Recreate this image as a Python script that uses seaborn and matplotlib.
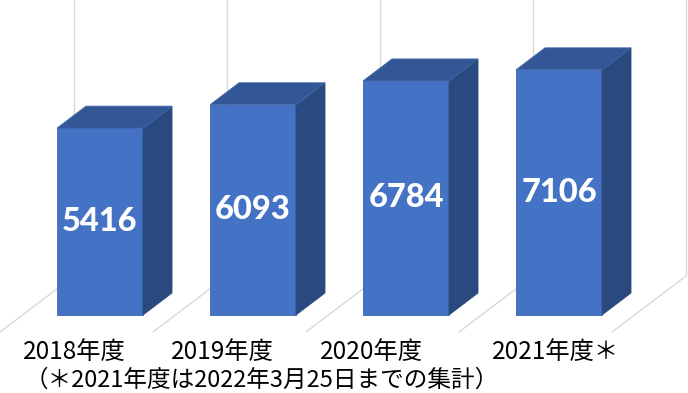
import matplotlib
matplotlib.use("Agg")
import matplotlib.pyplot as plt
import seaborn as sns
import numpy as np
import pandas as pd
from matplotlib.patches import Polygon

# ---- data ----
categories = ["2018年度", "2019年度", "2020年度", "2021年度＊"]
values = [5416, 6093, 6784, 7106]
note = "（＊2021年度は2022年3月25日までの集計）"

# ---- style ----
FRONT = "#4472C4"
TOP = "#335794"
SIDE = "#2A4A7F"
EDGE = "#3E67B0"
GRID = "#D9D9D9"

sns.set_theme(style="white")
plt.rcParams["font.family"] = ["Noto Sans CJK JP", "DejaVu Sans"]

W, H = 688, 393
fig = plt.figure(figsize=(W / 100, H / 100), dpi=100)
ax = fig.add_axes([0, 0, 1, 1])

# pixel-calibrated scales
xstep = 153.0          # px per category
x0px = 100.0           # px of first bar centre
ys = 0.0345            # px per value unit
base_px = 315.0        # px (from top) of value 0
ax.set_xlim(-x0px / xstep, (W - x0px) / xstep)
ax.set_ylim((base_px - H) / ys, base_px / ys)

bar_w = 86 / xstep
DX, DY = 29 / xstep, 22 / ys          # bar depth
FX, FY = 74 / xstep, 56 / ys          # floor depth
F0 = -17 / ys                          # floor front level
fx0 = -x0px / xstep                    # first floor line front x

# back wall and floor gridlines
for k in range(len(categories) + 1):
    xa = fx0 + k
    ax.plot([xa, xa + FX], [F0, F0 + FY], color=GRID, lw=1.0, zorder=1)
    ax.plot([xa + FX, xa + FX], [F0 + FY, base_px / ys + 100], color=GRID, lw=1.0, zorder=1)

df = pd.DataFrame({"cat": categories, "val": values})
sns.barplot(data=df, x="cat", y="val", order=categories, width=bar_w,
            color=FRONT, saturation=1, edgecolor=EDGE, linewidth=0.6, ax=ax, zorder=3)

for p, v in zip(ax.patches, values):
    xl = p.get_x()
    xr = xl + p.get_width()
    top = Polygon([(xl, v), (xl + DX, v + DY), (xr + DX, v + DY), (xr, v)],
                  closed=True, facecolor=TOP, edgecolor=EDGE, lw=0.6, zorder=3)
    side = Polygon([(xr, v), (xr + DX, v + DY), (xr + DX, DY), (xr, 0)],
                   closed=True, facecolor=SIDE, edgecolor=SIDE, lw=0.6, zorder=3)
    ax.add_patch(side)
    ax.add_patch(top)
    ax.text(xl + p.get_width() / 2, v / 2, f"{v}", ha="center", va="center",
            color="white", fontsize=23.5, fontweight="black",
            family=["Lato", "DejaVu Sans"], zorder=5)

ax.set_xlim(-x0px / xstep, (W - x0px) / xstep)
ax.set_ylim((base_px - H) / ys, base_px / ys)
ax.axis("off")

# category labels
label_cx = [74, 222, 371, 556]
for lab, cx in zip(categories, label_cx):
    fig.text(cx / W, 1 - 352 / H, lab, ha="center", va="center",
             fontsize=17.5, color="black")
fig.text(262 / W, 1 - 380 / H, note, ha="center", va="center",
         fontsize=17, color="black")

fig.savefig("out.png", dpi=100)
